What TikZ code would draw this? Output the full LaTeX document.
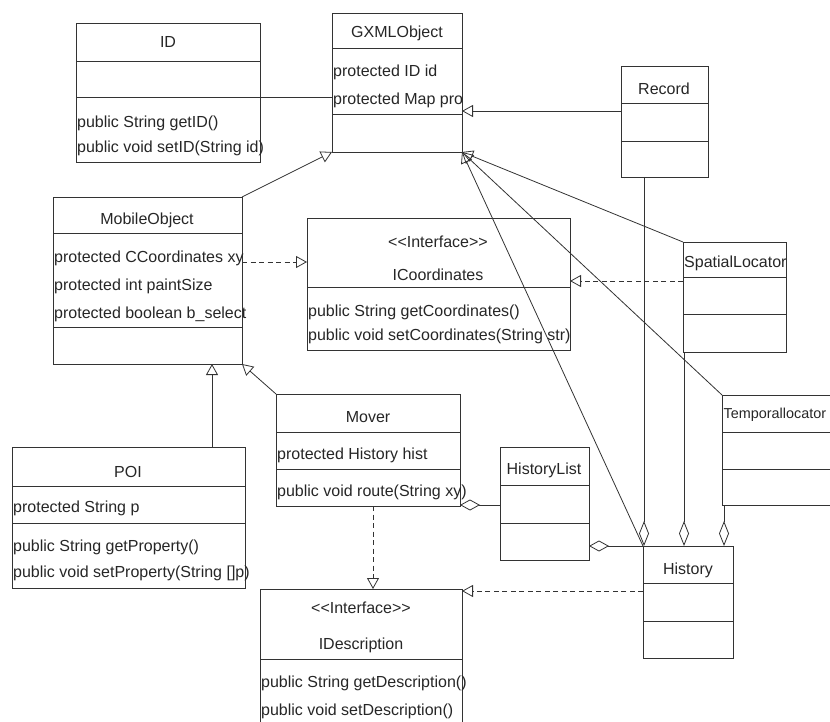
\documentclass[tikz,border=0pt]{standalone}
\usepackage{fontspec}
\setmainfont{Liberation Sans}
\usetikzlibrary{arrows.meta}
\newcommand\umlbox[5]{%
  \pgfmathsetmacro\bw{#4-#2}\pgfmathsetmacro\bh{#5-#3}%
  \node[box, minimum width=\bw pt, minimum height=\bh pt] (#1) at (#2,#3) {};}
\newcommand\udiv[3]{\draw[ln] (#1,#3) -- (#2,#3);}
\newcommand\stereo{\mbox{<}\mbox{<}Interface\mbox{>}\mbox{>}}
\begin{document}
\begin{tikzpicture}[x=1pt,y=-1pt,
  box/.style={draw=black!80, line width=0.9pt, inner sep=0pt, outer sep=0pt, anchor=north west},
  ln/.style={draw=black!80, line width=0.9pt},
  txt/.style={inner sep=0pt, font=\fontsize{16}{18}\selectfont, text=black!85},
  lt/.style={txt, anchor=west},
  conn/.style={draw=black!80, line width=0.8pt},
  dconn/.style={conn, dash pattern=on 5pt off 3.5pt},
  gen/.style={-{Triangle[open, length=11pt, width=12pt]}},
  agg/.style={-{Diamond[open, length=25pt, width=10pt]}},
  aggs/.style={-{Diamond[open, length=20pt, width=11pt]}}]
\useasboundingbox (0,0) rectangle (830,722);
\clip (0,0) rectangle (830,722);
% boxes
\umlbox{id}{76}{23}{260}{162}
\udiv{76}{260}{61}\udiv{76}{260}{97}
\umlbox{gxml}{332}{13}{462}{152}
\udiv{332}{462}{48}\udiv{332}{462}{114}
\umlbox{rec}{621}{66}{708}{177}
\udiv{621}{708}{103}\udiv{621}{708}{141}
\umlbox{mob}{53}{197}{242}{364}
\udiv{53}{242}{233}\udiv{53}{242}{327}
\umlbox{icoord}{307}{218}{570}{350}
\udiv{307}{570}{287}
\umlbox{spat}{683}{242}{786}{352}
\udiv{683}{786}{277}\udiv{683}{786}{314}
\umlbox{temp}{722}{395}{880}{505}
\udiv{722}{880}{432}\udiv{722}{880}{469}
\umlbox{poi}{12}{447}{245}{588}
\udiv{12}{245}{486}\udiv{12}{245}{523}
\umlbox{mover}{276}{394}{460}{506}
\udiv{276}{460}{432}\udiv{276}{460}{469}
\umlbox{hlist}{500}{447}{589}{560}
\udiv{500}{589}{485}\udiv{500}{589}{523}
\umlbox{hist}{643}{546}{733}{658}
\udiv{643}{733}{583}\udiv{643}{733}{621}
\umlbox{idesc}{260}{589}{462}{740}
\udiv{260}{462}{659}
% texts
\node[txt] (tid) at (168,42) {ID};
\node[lt] (tid1) at (77,123) {public String getID()};
\node[lt] (tid2) at (77,148) {public void setID(String id)};
\node[txt] (tgx) at (397,33) {GXMLObject};
\node[lt] (tgx1) at (333,72) {protected ID id};
\node[lt] (tgx2) at (333,100) {protected Map pro};
\node[txt] (trec) at (664,89) {Record};
\node[txt] (tmob) at (147,220) {MobileObject};
\node[lt] (tmob1) at (54,258) {protected CCoordinates xy};
\node[lt] (tmob2) at (54,286) {protected int paintSize};
\node[lt] (tmob3) at (54,314) {protected boolean b\_select};
\node[txt] (tic0) at (438,242) {\stereo};
\node[txt] (tic) at (438,275) {ICoordinates};
\node[lt] (tic1) at (308,312) {public String getCoordinates()};
\node[lt] (tic2) at (308,336) {public void setCoordinates(String str)};
\node[lt] (tsp) at (684,263) {SpatialLocator};
\node[lt, font=\fontsize{14.4}{16}\selectfont] (ttp) at (723.5,415) {Temporallocator};
\node[txt] (tpoi) at (128,472) {POI};
\node[lt] (tpoi1) at (13,508) {protected String p};
\node[lt] (tpoi2) at (13,547) {public String getProperty()};
\node[lt] (tpoi3) at (13,573) {public void setProperty(String []p)};
\node[txt] (tmov) at (368,417) {Mover};
\node[lt] (tmov1) at (277,455) {protected History hist};
\node[lt] (tmov2) at (277,492) {public void route(String xy)};
\node[txt] (thl) at (544,470) {HistoryList};
\node[txt] (thi) at (688,570) {History};
\node[txt] (tid0) at (361,608) {\stereo};
\node[txt] (tide) at (361,645) {IDescription};
\node[lt] (tide1) at (261,683) {public String getDescription()};
\node[lt] (tide2) at (261,711) {public void setDescription()};
% connectors
\draw[conn] ([yshift=-4.5pt]id.east) -- ([yshift=-4.5pt]id.east -| gxml.west);
\draw[conn,gen] ([yshift=10.5pt]rec.west) -- ([yshift=10.5pt]rec.west -| gxml.east);
\draw[conn,gen] (mob.north east) -- (gxml.south west);
\draw[conn,gen] (spat.north west) -- (gxml.south east);
\draw[conn,gen] (temp.north west) -- (gxml.south east);
\draw[conn,gen] (hist.north west) -- (gxml.south east);
\draw[dconn,gen] ([yshift=18.5pt]mob.east) -- ([yshift=18.5pt]mob.east -| icoord.west);
\draw[dconn,gen] ([yshift=16pt]spat.west) -- ([yshift=16pt]spat.west -| icoord.east);
\draw[conn,gen] ([xshift=83.5pt]poi.north) -- ([xshift=83.5pt]poi.north |- mob.south);
\draw[conn,gen] (mover.north west) -- (mob.south east);
\draw[conn,aggs] ([yshift=-1.5pt]hlist.west) -- ([yshift=-1.5pt]hlist.west -| mover.east);
\draw[dconn,gen] ([xshift=5pt]mover.south) -- ([xshift=5pt]mover.south |- idesc.north);
\draw[dconn,gen] ([yshift=11pt]hist.west) -- ([yshift=11pt]hist.west -| idesc.east);
\draw[conn,aggs] (hist.north west) -- (hist.north west -| hlist.east);
\draw[conn,agg] ([xshift=1pt]hist.north west |- rec.south) -- ([xshift=1pt]hist.north west);
\draw[conn,agg] ([xshift=1pt]spat.south west) -- ([xshift=1pt]spat.south west |- hist.north);
\draw[conn,agg] ([xshift=2pt]temp.south west) -- ([xshift=2pt]temp.south west |- hist.north);
\end{tikzpicture}
\end{document}
